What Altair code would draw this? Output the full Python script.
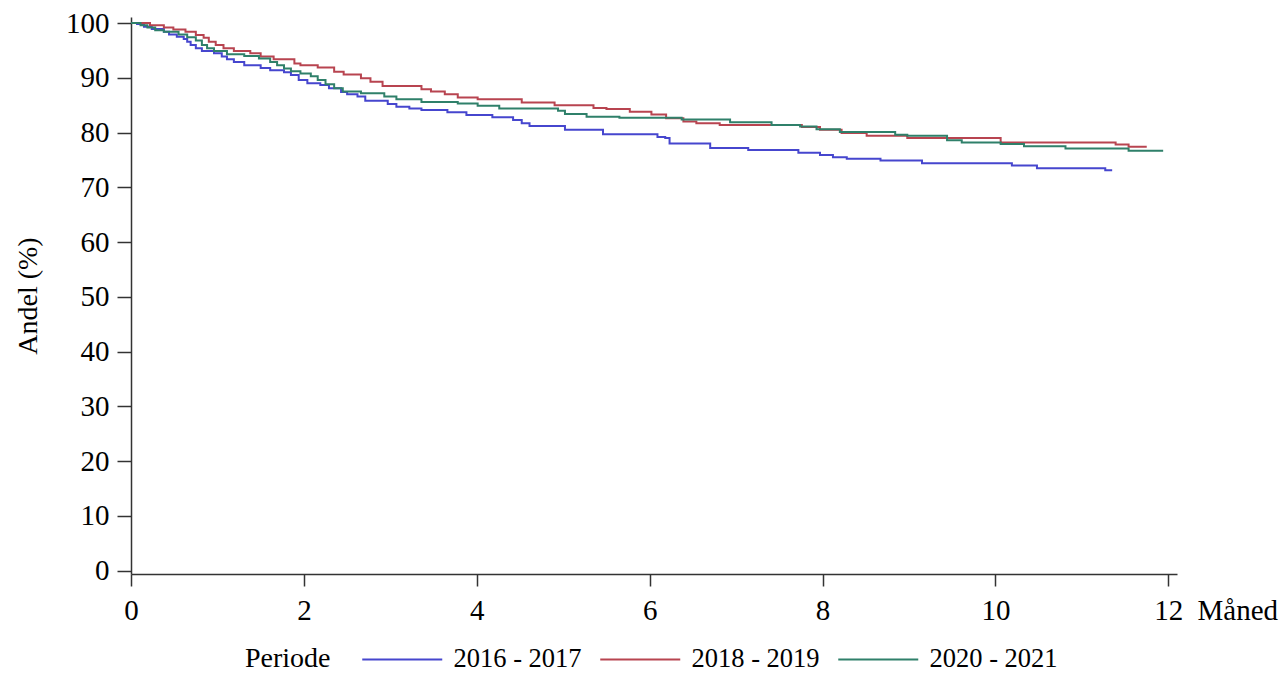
import altair as alt
import pandas as pd

periods = ["2016 - 2017", "2018 - 2019", "2020 - 2021"]
colors = ["#4646CE", "#B84450", "#2F806A"]

t_1617 = [0, 0.07, 0.15, 0.24, 0.38, 0.44, 0.53, 0.61, 0.65, 0.69, 0.75, 0.82, 0.96, 1.05, 1.11,
          1.19, 1.31, 1.50, 1.61, 1.77, 1.85, 1.94, 2.04, 2.19, 2.29, 2.43, 2.50, 2.62, 2.71, 2.97,
          3.07, 3.22, 3.36, 3.66, 3.88, 4.18, 4.42, 4.52, 4.61, 5.02, 5.46, 6.09, 6.18, 6.23, 6.70,
          7.14, 7.72, 7.97, 8.12, 8.28, 8.67, 9.15, 10.19, 10.48, 11.27, 11.35]
v_1617 = [100, 99.8, 99.3, 98.9, 98.4, 97.9, 97.5, 97.1, 96.6, 96.0, 95.4, 94.9, 94.5, 93.9, 93.4,
          92.9, 92.3, 91.8, 91.4, 91.0, 90.5, 89.6, 89.0, 88.7, 88.1, 87.4, 87.0, 86.6, 85.8, 85.2,
          84.7, 84.4, 84.1, 83.7, 83.2, 82.8, 82.3, 81.7, 81.2, 80.5, 79.7, 79.2, 79.0, 78.0, 77.2,
          76.8, 76.3, 75.9, 75.5, 75.2, 74.9, 74.4, 74.0, 73.5, 73.1, 73.1]

t_1819 = [0, 0.22, 0.38, 0.49, 0.63, 0.75, 0.84, 0.90, 0.98, 1.07, 1.19, 1.38, 1.50, 1.65, 1.89,
          1.96, 2.16, 2.35, 2.46, 2.66, 2.77, 2.91, 3.36, 3.47, 3.63, 3.78, 4.01, 4.52, 4.90, 5.35,
          5.50, 5.77, 6.02, 6.19, 6.39, 6.54, 6.81, 7.76, 7.97, 8.22, 8.51, 8.98, 10.06, 11.39,
          11.54, 11.75]
v_1819 = [100, 99.6, 99.2, 98.8, 98.4, 97.8, 97.3, 96.6, 96.0, 95.4, 94.9, 94.5, 93.9, 93.4, 92.6,
          92.3, 91.9, 91.1, 90.6, 89.9, 89.3, 88.5, 87.9, 87.5, 87.0, 86.4, 86.1, 85.5, 85.0, 84.5,
          84.3, 83.8, 83.3, 82.6, 82.0, 81.7, 81.4, 81.0, 80.5, 79.9, 79.4, 79.0, 78.2, 77.8,
          77.4, 77.4]

t_2021 = [0, 0.11, 0.19, 0.28, 0.38, 0.55, 0.65, 0.75, 0.82, 0.88, 0.96, 1.11, 1.31, 1.48, 1.61,
          1.69, 1.77, 1.85, 1.96, 2.08, 2.16, 2.25, 2.35, 2.45, 2.66, 2.93, 3.07, 3.36, 3.78, 4.01,
          4.26, 4.94, 5.02, 5.27, 5.65, 6.37, 6.93, 7.41, 7.74, 7.93, 8.20, 8.84, 8.98, 9.44, 9.61,
          10.06, 10.33, 10.81, 11.54, 11.94]
v_2021 = [100, 99.6, 99.2, 98.7, 98.4, 97.9, 97.4, 96.8, 96.0, 95.4, 94.9, 94.3, 94.0, 93.5, 92.9,
          92.3, 91.7, 91.2, 90.8, 90.3, 89.6, 88.8, 88.1, 87.5, 87.2, 86.6, 86.1, 85.6, 85.3, 84.9,
          84.4, 84.0, 83.4, 82.9, 82.7, 82.4, 81.9, 81.4, 81.1, 80.6, 80.1, 79.6, 79.4, 78.6, 78.2,
          77.9, 77.5, 77.1, 76.7, 76.7]

x_ticks = [0, 2, 4, 6, 8, 10, 12]
y_ticks = [0, 10, 20, 30, 40, 50, 60, 70, 80, 90, 100]

rows = []
for name, ts, vs in zip(periods, [t_1617, t_1819, t_2021], [v_1617, v_1819, v_2021]):
    for t, v in zip(ts, vs):
        rows.append({"Periode": name, "t": t, "v": v})
df = pd.DataFrame(rows)

FONT = "Liberation Serif"
FS = 29

chart = alt.Chart(df).mark_line(interpolate="step-after", strokeWidth=2).encode(
    x=alt.X("t:Q",
            scale=alt.Scale(domain=[0, 12.1], nice=False, zero=False),
            axis=alt.Axis(values=x_ticks, title="Måned", grid=False, tickSize=12,
                          labelPadding=10, labelFontSize=FS, labelFont=FONT,
                          titleFontSize=FS, titleFont=FONT, titleFontWeight="normal",
                          titleX=1066, titleY=45, titleAlign="left", titleBaseline="alphabetic",
                          domainColor="#333333", tickColor="#333333", domainWidth=1.5, tickWidth=1.5,
                          labelColor="#000000", titleColor="#000000", labelFlush=False)),
    y=alt.Y("v:Q",
            scale=alt.Scale(domain=[-0.6, 101.1], nice=False, zero=False),
            axis=alt.Axis(values=y_ticks, title="Andel (%)", grid=False, tickSize=14,
                          labelPadding=8, labelFontSize=FS, labelFont=FONT,
                          titleFontSize=28, titleFont=FONT, titleFontWeight="normal",
                          titleX=-103, titleBaseline="middle", titleAngle=-90,
                          domainColor="#333333", tickColor="#333333", domainWidth=1.5, tickWidth=1.5,
                          labelColor="#000000", titleColor="#000000", labelFlush=False)),
    color=alt.Color("Periode:N",
                    scale=alt.Scale(domain=periods, range=colors),
                    legend=alt.Legend(orient="none", legendX=114, legendY=629, direction="horizontal",
                                      titleOrient="left", symbolType="M-4,0H4", symbolSize=400,
                                      symbolStrokeWidth=2, labelFontSize=26.5, labelFont=FONT,
                                      titleFontSize=28, titleFont=FONT, titleFontWeight="normal",
                                      titlePadding=58, columnPadding=14, labelOffset=38, padding=0,
                                      titleBaseline="middle", labelLimit=300,
                                      labelColor="#000000", titleColor="#000000")),
).properties(
    width=1046, height=557,
    autosize=alt.AutoSizeParams(type="none"),
    padding={"left": 131, "top": 17, "right": 105, "bottom": 99},
).configure(font=FONT).configure_view(stroke=None)

chart.save("out.html", embed_options={"renderer": "svg", "actions": False})
